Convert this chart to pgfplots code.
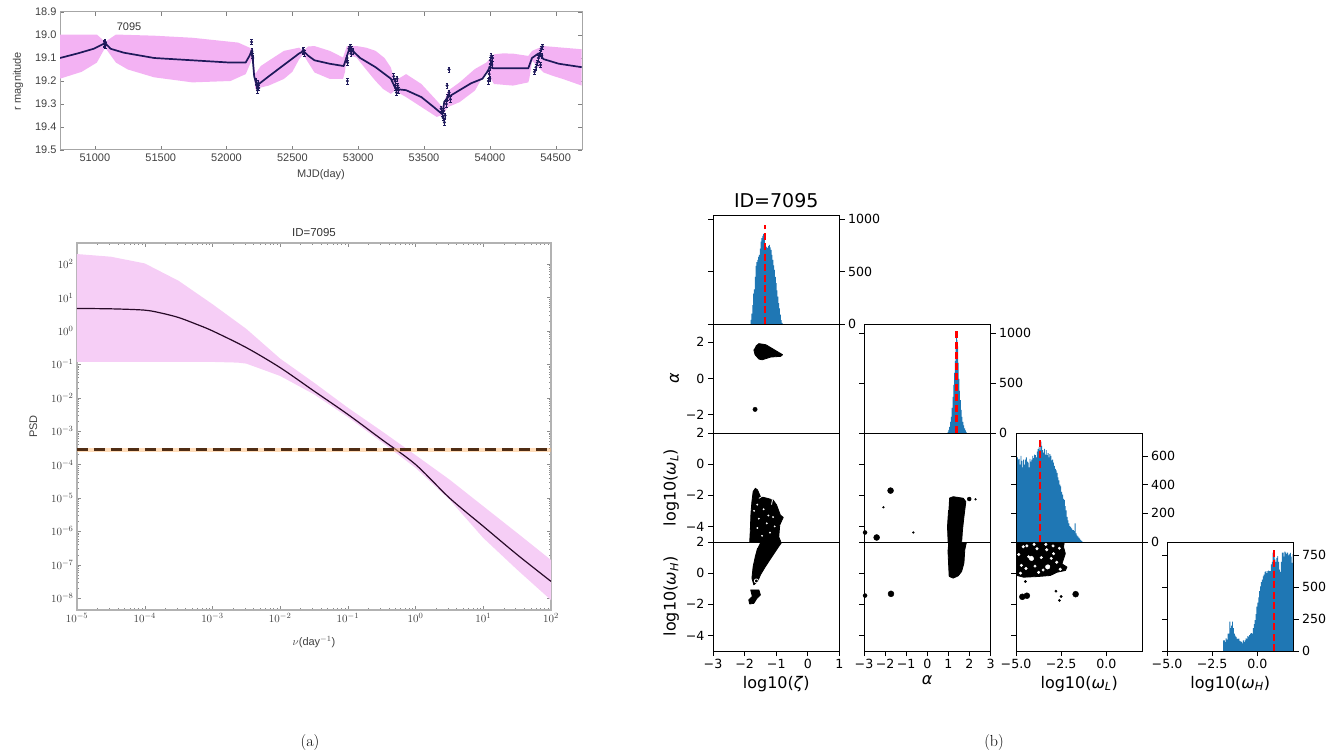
\documentclass[border=0pt]{standalone}
\usepackage{fontspec}
\usepackage{pgfplots}
\pgfplotsset{compat=1.18}
\newfontfamily\dv{DejaVu Sans}
\newfontfamily\ls{Liberation Sans}
\definecolor{c0}{RGB}{31,119,180}
\definecolor{lcpink}{RGB}{243,178,243}
\definecolor{psdpink}{RGB}{246,206,246}
\definecolor{navy}{RGB}{30,25,90}
\definecolor{psdline}{RGB}{40,10,40}
\definecolor{dashbrown}{RGB}{80,45,20}
\pgfplotsset{
  scaled ticks=false,
  cbase/.style={anchor=south west, scale only axis, width=126.5pt, height=109pt,
    axis line style={line width=0.8pt}, tick align=outside, major tick length=5pt,
    tick style={black, line width=0.8pt},
    tick label style={font=\dv\fontsize{12.6}{15}\selectfont},
    label style={font=\dv\fontsize{16}{19}\selectfont},
    axis on top, clip=true},
  hist/.style={cbase, ymin=0, xtick=\empty, ytick pos=both, yticklabel pos=right},
  scat/.style={cbase, tick pos=left},
  blob/.style={fill=black, draw=black, line width=0.8pt, line join=round},
  dots/.style={only marks, mark=*, black},
  reddash/.style={red, line width=2.2pt, dash pattern=on 7pt off 3.5pt},
}
\begin{document}
\begin{tikzpicture}
\useasboundingbox (0pt,0pt) rectangle (1343pt,755pt);

% ---------------- light curve ----------------
\begin{axis}[at={(60pt,605pt)}, anchor=south west, scale only axis,
  width=522pt, height=138pt,
  xmin=50735, xmax=54700, ymin=18.9, ymax=19.5, y dir=reverse,
  xtick={51000,51500,52000,52500,53000,53500,54000,54500},
  xticklabels={51000,51500,52000,52500,53000,53500,54000,54500},
  ytick={18.9,19,19.1,19.2,19.3,19.4,19.5},
  yticklabels={18.9,19.0,19.1,19.2,19.3,19.4,19.5},
  tick align=inside, major tick length=4pt,
  axis line style={black!35, line width=1pt}, tick style={black!50},
  tick label style={font=\ls\fontsize{11}{13}\selectfont, black!75},
  label style={font=\ls\fontsize{11}{13}\selectfont, black!75},
  xlabel={MJD(day)}, ylabel={r magnitude},
  xlabel style={yshift=-1pt}, ylabel style={yshift=5pt}]
\addplot[fill=lcpink, draw=none] coordinates {
(50735,18.998) (51015,18.998) (51078,19.03) (51160,18.998) (51450,19.003) (51740,19.012) (52088,19.033)
(52175,19.055) (52198,19.07) (52218,19.17) (52260,19.135) (52320,19.112) (52436,19.069) (52552,19.055)
(52581,19.07) (52620,19.05) (52668,19.048) (52784,19.069) (52885,19.098) (52914,19.048) (52987,19.048)
(53060,19.055) (53132,19.069) (53200,19.1) (53248,19.141) (53277,19.2) (53364,19.17) (53480,19.213) (53596,19.285)
(53639,19.313) (53683,19.242) (53770,19.206) (53886,19.148) (53973,19.12) (54031,19.084)
(54100,19.08) (54176,19.081) (54292,19.091) (54321,19.069) (54408,19.048) (54553,19.055) (54698,19.062)
(54698,19.22) (54553,19.191) (54480,19.178) (54408,19.163) (54321,19.112) (54300,19.19) (54292,19.206) (54176,19.22)
(54031,19.213) (53973,19.155) (53886,19.242) (53770,19.292) (53683,19.313) (53639,19.349)
(53596,19.356) (53480,19.313) (53364,19.27) (53277,19.242) (53248,19.256) (53190,19.235) (53132,19.2)
(53060,19.15) (52987,19.098) (52914,19.084) (52900,19.16) (52885,19.191) (52784,19.191) (52668,19.163) (52581,19.084)
(52552,19.105) (52500,19.16) (52436,19.191) (52320,19.22) (52218,19.234) (52198,19.1) (52189,19.112)
(52146,19.17) (52030,19.2) (51740,19.206) (51450,19.184) (51250,19.15) (51160,19.12) (51078,19.055)
(51015,19.12) (50900,19.16) (50735,19.19)};
\addplot[navy, line width=1.7pt, line join=round] coordinates {
(50735,19.10) (50870,19.08) (50990,19.06) (51078,19.035) (51120,19.06) (51220,19.077)
(51450,19.10) (51740,19.11) (52030,19.12) (52145,19.12) (52175,19.09) (52193,19.065)
(52210,19.18) (52230,19.22) (52320,19.18) (52436,19.13) (52552,19.08) (52585,19.07)
(52620,19.09) (52668,19.11) (52784,19.125) (52890,19.135) (52910,19.10) (52935,19.055)
(52960,19.07) (53015,19.10) (53132,19.14) (53248,19.19) (53285,19.235) (53364,19.24)
(53480,19.27) (53567,19.31) (53640,19.345) (53654,19.29) (53683,19.27) (53770,19.24)
(53857,19.21) (53944,19.19) (53980,19.16) (54000,19.14) (54030,19.145) (54292,19.145)
(54320,19.10) (54370,19.08) (54408,19.105) (54524,19.125) (54698,19.14)};
\addplot[only marks, mark=*, mark size=1.3pt, navy,
  error bars/.cd, y dir=both, y fixed=0.012, error bar style={navy, line width=0.6pt}] coordinates {
(51072,19.04) (51075,19.035) (51078,19.03) (51080,19.045)
(52190,19.03) (52193,19.07) (52196,19.09) (52200,19.10) (52225,19.20) (52230,19.22)
(52235,19.24) (52240,19.21) (52245,19.23)
(52580,19.07) (52585,19.065) (52590,19.08)
(52915,19.10) (52918,19.20) (52920,19.12) (52930,19.06) (52940,19.05) (52945,19.08)
(52950,19.06) (52960,19.07)
(53270,19.18) (53280,19.20) (53285,19.23) (53290,19.25) (53295,19.19) (53300,19.22) (53305,19.24)
(53630,19.32) (53640,19.34) (53645,19.36) (53650,19.33) (53655,19.38) (53660,19.35)
(53670,19.30) (53675,19.22) (53680,19.27) (53690,19.25) (53690,19.15) (53700,19.28)
(53990,19.20) (53995,19.17) (54000,19.14) (54000,19.19) (54005,19.11) (54010,19.09)
(54015,19.13) (54020,19.10)
(54340,19.16) (54350,19.14) (54360,19.12) (54370,19.10) (54380,19.08) (54385,19.13)
(54390,19.06) (54395,19.09) (54400,19.05)};
\node[font=\ls\fontsize{11}{13}\selectfont, black!80] at (axis cs:51260,18.965) {7095};
\end{axis}

% ---------------- PSD ----------------
\begin{axis}[at={(77pt,145pt)}, anchor=south west, scale only axis,
  width=474pt, height=367pt, xmode=log, ymode=log,
  xmin=1e-5, xmax=100, ymin=4.4e-9, ymax=427,
  xtick={1e-5,1e-4,1e-3,1e-2,1e-1,1,10,100},
  ytick={1e-8,1e-7,1e-6,1e-5,1e-4,1e-3,1e-2,1e-1,1,10,100},
  tick align=inside, major tick length=4pt, minor tick length=2.5pt,
  axis line style={black!30, line width=1.2pt}, tick style={black!45},
  tick label style={font=\fontsize{11}{13}\selectfont, black!75},
  label style={font=\ls\fontsize{11}{13}\selectfont, black!75},
  title style={font=\ls\fontsize{11.5}{13}\selectfont, black!80, yshift=-3pt},
  xlabel style={yshift=-7pt}, ylabel style={yshift=7pt},
  title={ID=7095}, xlabel={$\nu$(day$^{-1}$)}, ylabel={PSD}]
\addplot[fill=psdpink, draw=none] coordinates {
(1e-5,199.5) (3.162e-5,166) (1e-4,104.7) (3.162e-4,31.6) (1e-3,6.31) (3.162e-3,1.148)
(1e-2,0.148) (3.162e-2,0.0282) (0.1,5.01e-3) (0.3162,1e-3) (1,1.905e-4) (3.162,3.55e-5)
(10,5.62e-6) (31.62,8.91e-7) (100,1.38e-7)
(100,8.71e-9) (31.62,7.08e-8) (10,6.31e-7) (3.162,8.91e-6) (1,7.94e-5) (0.3162,4.68e-4)
(0.1,2.63e-3) (3.162e-2,0.0126) (1e-2,0.0447) (3.162e-3,0.1047) (2.344e-3,0.1122)
(1e-3,0.1175) (1e-4,0.1175) (1e-5,0.1175)};
\addplot[psdline, line width=1.2pt, smooth] coordinates {
(1e-5,4.68) (3.162e-5,4.57) (1e-4,4.17) (1.778e-4,3.39) (3.162e-4,2.51) (5.623e-4,1.62)
(1e-3,1.0) (3.162e-3,0.316) (1e-2,0.0794) (3.162e-2,0.0158) (0.1,3.16e-3) (0.3162,5.62e-4)
(1,1e-4) (3.162,1e-5) (10,1.41e-6) (31.62,2.0e-7) (100,3.16e-8)};
\addplot[orange!55, line width=4pt, opacity=0.5] coordinates {(1e-5,2.75e-4) (100,2.75e-4)};
\addplot[dashbrown, line width=3pt, dash pattern=on 11pt off 6pt] coordinates {(1e-5,2.75e-4) (100,2.75e-4)};
\end{axis}

% ---------------- corner plot ----------------
% row 1
\begin{axis}[hist, at={(713pt,431pt)}, xmin=-3, xmax=1, ymax=1040,
  ytick={0,500,1000}, yticklabels={0,500,1000},
  title={ID=7095}, title style={font=\dv\fontsize{19}{22}\selectfont, yshift=-2pt}]
\addplot[const plot, fill=c0, draw=none] coordinates {
(-1.812,40) (-1.786,100) (-1.759,180) (-1.733,290) (-1.706,330) (-1.680,450) (-1.653,555)
(-1.626,590) (-1.599,611) (-1.573,640) (-1.546,659) (-1.520,720) (-1.493,787) (-1.467,820)
(-1.440,840) (-1.413,860) (-1.387,818) (-1.360,770) (-1.334,739) (-1.307,730) (-1.281,723)
(-1.254,745) (-1.228,755) (-1.201,730) (-1.175,707) (-1.148,660) (-1.122,611) (-1.095,560)
(-1.069,516) (-1.042,450) (-1.016,389) (-0.989,320) (-0.963,261) (-0.936,200) (-0.910,150)
(-0.883,90) (-0.857,38) (-0.830,10) (-0.80,0)} \closedcycle;
\addplot[reddash] coordinates {(-1.355,0) (-1.355,946)};
\end{axis}

% row 2
\begin{axis}[scat, at={(713pt,322pt)}, xmin=-3, xmax=1, ymin=-3, ymax=3,
  xtick=\empty, ytick={-2,0,2}, yticklabels={−2,0,2}, ylabel={\textit{α}}]
\addplot[blob] coordinates {(-1.65,1.77) (-1.55,1.92) (-1.33,1.86) (-1.07,1.59) (-0.80,1.31)
(-0.86,1.22) (-1.18,1.18) (-1.44,1.03) (-1.55,1.07) (-1.67,1.31) (-1.71,1.59)};
\addplot[dots, mark size=2.2pt] coordinates {(-1.67,-1.70)};
\end{axis}
\begin{axis}[hist, at={(864pt,322pt)}, xmin=-3, xmax=3, ymax=1090,
  ytick={0,500,1000}, yticklabels={0,500,1000}]
\addplot[const plot, fill=c0, draw=none] coordinates {
(0.96,10) (1.00,30) (1.04,60) (1.08,110) (1.12,160) (1.16,250) (1.20,362) (1.24,480)
(1.28,600) (1.31,720) (1.34,860) (1.37,960) (1.40,930) (1.43,866) (1.46,700) (1.49,540)
(1.52,420) (1.55,329) (1.59,230) (1.63,161) (1.67,110) (1.71,77) (1.75,45) (1.79,27)
(1.83,10) (1.87,0)} \closedcycle;
\addplot[reddash] coordinates {(1.39,0) (1.39,1034)};
\end{axis}

% row 3
\begin{axis}[scat, at={(713pt,213pt)}, xmin=-3, xmax=1, ymin=-5, ymax=2,
  xtick=\empty, ytick={-4,-2,0,2}, yticklabels={−4,−2,0,2},
  ylabel={log10(\textit{ω}\textsubscript{\textit{L}})}]
\addplot[blob] coordinates {(-1.84,-5.03) (-1.82,-4.24) (-1.80,-3.16) (-1.77,-2.41)
(-1.73,-1.76) (-1.66,-1.55) (-1.59,-1.66) (-1.50,-2.09) (-1.29,-2.19) (-1.10,-2.30)
(-0.99,-2.62) (-0.95,-2.84) (-0.87,-3.27) (-0.78,-3.42) (-0.89,-3.91) (-0.92,-4.67)
(-0.85,-5.03)};
\addplot[white, line width=0.8pt] coordinates {(-1.55,-2.2) (-1.4,-2.0) (-1.2,-2.05) (-1.12,-2.3) (-1.15,-2.6)};
\addplot[only marks, mark=*, white, mark size=0.7pt] coordinates {
(-1.6,-2.6) (-1.4,-2.9) (-1.25,-3.3) (-1.55,-3.5) (-1.3,-3.8) (-1.1,-3.4) (-1.6,-4.1) (-1.2,-4.4)
(-1.45,-4.6) (-1.05,-4.0) (-1.7,-3.0)};
\end{axis}
\begin{axis}[scat, at={(864pt,213pt)}, xmin=-3, xmax=3, ymin=-5, ymax=2,
  xtick=\empty, ytick={-4,-2,0,2}, yticklabels={}]
\addplot[blob] coordinates {(1.04,-2.19) (1.23,-2.09) (1.71,-2.19) (1.83,-2.41) (1.74,-3.38)
(1.67,-4.24) (1.63,-5.03) (0.99,-5.03) (0.96,-4.02) (1.01,-2.95)};
\addplot[dots, mark size=3pt] coordinates {(-1.74,-1.70) (-2.40,-4.71)};
\addplot[dots, mark size=2pt] coordinates {(-2.95,-4.39) (1.99,-2.24)};
\addplot[dots, mark size=0.9pt] coordinates {(-2.08,-2.77) (-0.66,-4.39) (2.29,-2.26)};
\end{axis}
\begin{axis}[hist, at={(1016pt,213pt)}, xmin=-5, xmax=2, ymax=760,
  ytick={0,200,400,600}, yticklabels={0,200,400,600}]
\addplot[const plot, fill=c0, draw=none] coordinates {
(-5.0,435) (-4.95,590) (-4.90,575) (-4.85,580) (-4.80,540) (-4.75,600) (-4.70,565) (-4.65,520)
(-4.60,575) (-4.55,540) (-4.50,575) (-4.45,590) (-4.40,560) (-4.35,553) (-4.30,520) (-4.25,580)
(-4.20,560) (-4.15,575) (-4.10,600) (-4.05,585) (-4.00,610) (-3.95,605) (-3.90,590) (-3.85,630)
(-3.80,647) (-3.75,660) (-3.70,640) (-3.65,700) (-3.60,670) (-3.55,640) (-3.50,623) (-3.45,650)
(-3.40,610) (-3.35,640) (-3.30,605) (-3.25,620) (-3.20,590) (-3.15,612) (-3.10,600) (-3.05,570)
(-3.00,575) (-2.95,553) (-2.90,530) (-2.85,510) (-2.80,500) (-2.75,482) (-2.70,450) (-2.65,430)
(-2.60,400) (-2.55,388) (-2.50,350) (-2.45,330) (-2.40,300) (-2.35,294) (-2.30,250) (-2.25,220)
(-2.20,176) (-2.15,150) (-2.10,130) (-2.05,110) (-2.00,106) (-1.95,95) (-1.90,85) (-1.85,82)
(-1.80,75) (-1.75,130) (-1.70,60) (-1.65,47) (-1.60,40) (-1.55,30) (-1.50,24) (-1.45,15)
(-1.40,7) (-1.35,3) (-1.30,0)} \closedcycle;
\addplot[reddash] coordinates {(-3.66,0) (-3.66,729)};
\end{axis}

% row 4
\begin{axis}[scat, at={(713pt,104pt)}, xmin=-3, xmax=1, ymin=-5, ymax=2,
  xtick={-3,-2,-1,0,1}, xticklabels={−3,−2,−1,0,1},
  ytick={-4,-2,0,2}, yticklabels={−4,−2,0,2},
  xlabel={log10(\textit{ζ})}, ylabel={log10(\textit{ω}\textsubscript{\textit{H}})}]
\addplot[blob] coordinates {(-1.50,2.0) (-0.82,2.0) (-0.92,1.72) (-1.13,1.08) (-1.34,0.43)
(-1.50,-0.11) (-1.59,-0.54) (-1.71,-0.75) (-1.77,-0.32) (-1.73,0.43) (-1.66,1.08) (-1.59,1.61)};
\addplot[blob] coordinates {(-1.82,-1.08) (-1.55,-1.08) (-1.50,-1.40) (-1.61,-1.61)
(-1.71,-1.94) (-1.84,-1.98) (-1.87,-1.72) (-1.77,-1.51)};
\addplot[only marks, mark=o, white, mark size=2pt, line width=0.8pt] coordinates {(-1.63,-0.50)};
\end{axis}
\begin{axis}[scat, at={(864pt,104pt)}, xmin=-3, xmax=3, ymin=-5, ymax=2,
  xtick={-3,-2,-1,0,1,2,3}, xticklabels={−3,−2,−1,0,1,2,3},
  ytick={-4,-2,0,2}, yticklabels={}, xlabel={\textit{α}}]
\addplot[blob] coordinates {(0.99,2.0) (1.86,2.0) (1.78,1.51) (1.74,0.65) (1.63,0.11)
(1.47,-0.17) (1.23,-0.32) (1.04,-0.21) (1.01,0.65) (0.98,1.51)};
\addplot[dots, mark size=3pt] coordinates {(-1.72,-1.33)};
\addplot[dots, mark size=2pt] coordinates {(-2.95,-1.44)};
\end{axis}
\begin{axis}[scat, at={(1016pt,104pt)}, xmin=-5, xmax=2, ymin=-5, ymax=2,
  xtick={-5,-2.5,0}, xticklabels={−5.0,−2.5,0.0},
  ytick={-4,-2,0,2}, yticklabels={},
  xlabel={log10(\textit{ω}\textsubscript{\textit{L}})}]
\addplot[blob] coordinates {(-5,2) (-2.33,2) (-2.37,1.68) (-2.27,1.25) (-2.46,0.60)
(-2.18,0.39) (-2.27,0.17) (-2.73,0.06) (-3.10,-0.15) (-3.84,-0.22) (-4.58,-0.26)
(-4.94,-0.15) (-5,-0.04)};
\addplot[only marks, mark=*, white, mark size=1.3pt] coordinates {
(-4.6,1.7) (-4.3,1.05) (-4.1,0.9) (-3.2,0.45) (-3.84,1.57) (-2.92,1.25) (-4.7,0.5) (-3.5,0.2)
(-2.75,0.7) (-4.4,1.75) (-3.3,1.5) (-4.85,1.2) (-3.95,0.45) (-3.6,1.0) (-2.6,1.6) (-4.45,0.3)
(-3.05,0.95) (-4.0,1.85) (-2.55,0.25) (-3.75,0.05) (-4.75,0.0) (-3.35,1.85) (-2.95,1.75)};
\addplot[only marks, mark=*, white, mark size=2.2pt] coordinates {(-4.15,0.95) (-3.25,0.4)};
\addplot[dots, mark size=3pt] coordinates {(-4.65,-1.52) (-4.4,-1.45) (-1.7,-1.35)};
\addplot[dots, mark size=1.2pt] coordinates {(-4.48,-0.54) (-2.79,-1.16) (-2.5,-1.5) (-2.6,-1.75)};
\end{axis}
\begin{axis}[hist, at={(1167pt,104pt)}, xmin=-5, xmax=2, ymax=855,
  xtick={-5,-2.5,0}, xticklabels={−5.0,−2.5,0.0}, xtick pos=left,
  ytick={0,250,500,750}, yticklabels={0,250,500,750},
  xlabel={log10(\textit{ω}\textsubscript{\textit{H}})}]
\addplot[const plot, fill=c0, draw=none] coordinates {
(-1.90,84) (-1.85,84) (-1.80,70) (-1.75,100) (-1.70,90) (-1.65,137) (-1.60,137) (-1.55,230)
(-1.50,180) (-1.45,200) (-1.40,230) (-1.35,180) (-1.30,137) (-1.25,120) (-1.20,110) (-1.15,98)
(-1.10,95) (-1.05,98) (-1.00,80) (-0.95,75) (-0.90,71) (-0.85,60) (-0.80,84) (-0.75,70)
(-0.70,84) (-0.65,100) (-0.60,95) (-0.55,116) (-0.50,110) (-0.45,125) (-0.40,137) (-0.35,140)
(-0.30,137) (-0.25,180) (-0.20,210) (-0.15,243) (-0.10,290) (-0.05,348) (0.00,380) (0.05,420)
(0.10,470) (0.15,507) (0.20,540) (0.25,560) (0.30,586) (0.35,600) (0.40,620) (0.45,626)
(0.50,610) (0.55,626) (0.60,630) (0.65,626) (0.70,626) (0.75,680) (0.80,700) (0.85,771)
(0.90,790) (0.95,718) (1.00,700) (1.05,730) (1.10,744) (1.15,700) (1.20,639) (1.25,620)
(1.30,700) (1.35,771) (1.40,771) (1.45,740) (1.50,780) (1.55,771) (1.60,760) (1.65,771)
(1.70,750) (1.75,758) (1.80,770) (1.85,740) (1.90,692) (1.95,760) (2.0,0)} \closedcycle;
\addplot[reddash] coordinates {(0.93,0) (0.93,818)};
\end{axis}

\node[font=\fontsize{16}{19}\selectfont] at (310pt,12pt) {(a)};
\node[font=\fontsize{16}{19}\selectfont] at (994pt,12pt) {(b)};
\end{tikzpicture}
\end{document}
